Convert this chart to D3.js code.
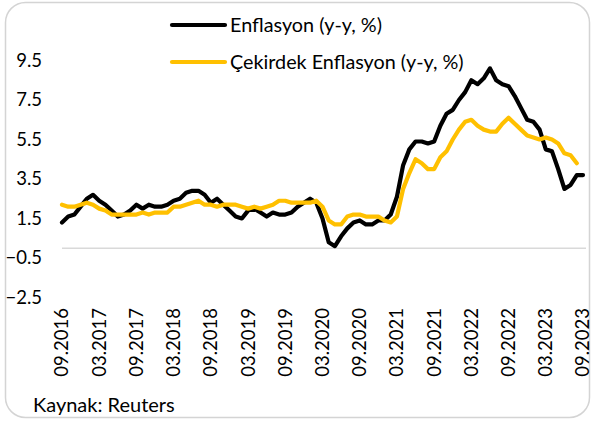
<!DOCTYPE html>
<html>
<head>
<meta charset="utf-8">
<script src="https://cdn.jsdelivr.net/npm/d3@7"></script>
<style>
  body { margin: 0; background: #fff; }
  text { font-family: Lato, "Liberation Sans", sans-serif; fill: #000; }
</style>
</head>
<body>
<div id="chart"></div>
<script>
// monthly series, 09.2016 .. 09.2023
var startMonth = new Date(2016, 8, 1);

var headline = [1.3, 1.6, 1.7, 2.1,
  2.5, 2.7, 2.4, 2.2, 1.9, 1.6, 1.7, 1.9, 2.2, 2.0, 2.2, 2.1,
  2.1, 2.2, 2.4, 2.5, 2.8, 2.9, 2.9, 2.7, 2.3, 2.5, 2.2, 1.9,
  1.6, 1.5, 1.9, 2.0, 1.8, 1.6, 1.8, 1.7, 1.7, 1.8, 2.1, 2.3,
  2.5, 2.3, 1.5, 0.3, 0.1, 0.6, 1.0, 1.3, 1.4, 1.2, 1.2, 1.4,
  1.4, 1.7, 2.6, 4.2, 5.0, 5.4, 5.4, 5.3, 5.4, 6.2, 6.8, 7.0,
  7.5, 7.9, 8.5, 8.3, 8.6, 9.1, 8.5, 8.3, 8.2, 7.7, 7.1, 6.5,
  6.4, 6.0, 5.0, 4.9, 4.0, 3.0, 3.2, 3.7, 3.7];

var core = [2.2, 2.1, 2.1, 2.2,
  2.3, 2.2, 2.0, 1.9, 1.7, 1.7, 1.7, 1.7, 1.7, 1.8, 1.7, 1.8,
  1.8, 1.8, 2.1, 2.1, 2.2, 2.3, 2.4, 2.2, 2.2, 2.1, 2.2, 2.2,
  2.2, 2.1, 2.0, 2.1, 2.0, 2.1, 2.2, 2.4, 2.4, 2.3, 2.3, 2.3,
  2.3, 2.4, 2.1, 1.4, 1.2, 1.2, 1.6, 1.7, 1.7, 1.6, 1.6, 1.6,
  1.4, 1.3, 1.6, 3.0, 3.8, 4.5, 4.3, 4.0, 4.0, 4.6, 4.9, 5.5,
  6.0, 6.4, 6.5, 6.2, 6.0, 5.9, 5.9, 6.3, 6.6, 6.3, 6.0, 5.7,
  5.6, 5.5, 5.6, 5.5, 5.3, 4.8, 4.7, 4.3];

var yTicks = [9.5, 7.5, 5.5, 3.5, 1.5, -0.5, -2.5];
var seriesNames = ["Enflasyon (y-y, %)", "Çekirdek Enflasyon (y-y, %)"];
var seriesColors = ["#000000", "#FFC000"];
var source = "Kaynak: Reuters";

var width = 593, height = 424;

var svg = d3.select("#chart").append("svg")
    .attr("width", width)
    .attr("height", height);

// frame
svg.append("rect")
    .attr("x", 5.5).attr("y", 2.5)
    .attr("width", 584).attr("height", 415)
    .attr("rx", 20).attr("ry", 20)
    .attr("fill", "#fff")
    .attr("stroke", "#d4d4d4")
    .attr("stroke-width", 1.5);

var months = d3.range(headline.length).map(function(i) {
    return d3.timeMonth.offset(startMonth, i);
});
var fmt = d3.timeFormat("%m.%Y");

var x = d3.scalePoint()
    .domain(months.map(fmt))
    .range([62, 583]);

var y = d3.scaleLinear()
    .domain([-2.5, 9.5])
    .range([297.5, 60.5]);

// y labels
svg.append("g").selectAll("text")
    .data(yTicks)
    .enter().append("text")
    .attr("x", 42)
    .attr("y", function(d) { return y(d); })
    .attr("dy", "0.35em")
    .attr("text-anchor", "end")
    .style("font-size", "18.5px")
    .text(function(d) { return d3.format(".1f")(d); });

// zero axis line
svg.append("line")
    .attr("x1", x.range()[0]).attr("x2", x.range()[1] + 3)
    .attr("y1", y(0)).attr("y2", y(0))
    .attr("stroke", "#d9d9d9")
    .attr("stroke-width", 1.5);

// x labels every 6 months
var xLabels = months.map(fmt).filter(function(d, i) { return i % 6 === 0; });
svg.append("g").selectAll("text")
    .data(xLabels)
    .enter().append("text")
    .attr("transform", function(d) { return "translate(" + x(d) + ",308) rotate(-90)"; })
    .attr("dy", "0.35em")
    .attr("text-anchor", "end")
    .style("font-size", "18.5px")
    .text(function(d) { return d; });

var line = d3.line()
    .x(function(d, i) { return x(fmt(months[i])); })
    .y(function(d) { return y(d); });

[headline, core].forEach(function(s, k) {
    svg.append("path")
        .datum(s)
        .attr("d", line)
        .attr("fill", "none")
        .attr("stroke", seriesColors[k])
        .attr("stroke-width", 4.2)
        .attr("stroke-linejoin", "round")
        .attr("stroke-linecap", "round");
});

// legend
var legend = svg.append("g").selectAll("g")
    .data(seriesNames)
    .enter().append("g")
    .attr("transform", function(d, i) { return "translate(172," + (25 + i * 37) + ")"; });

legend.append("line")
    .attr("x1", 0).attr("x2", 53)
    .attr("stroke", function(d, i) { return seriesColors[i]; })
    .attr("stroke-width", 4.2)
    .attr("stroke-linecap", "round");

legend.append("text")
    .attr("x", 58)
    .attr("dy", "0.35em")
    .style("font-size", "19.8px")
    .text(function(d) { return d; });

svg.append("text")
    .attr("x", 33).attr("y", 405)
    .attr("dy", "0.35em")
    .style("font-size", "20px")
    .text(source);
</script>
</body>
</html>
